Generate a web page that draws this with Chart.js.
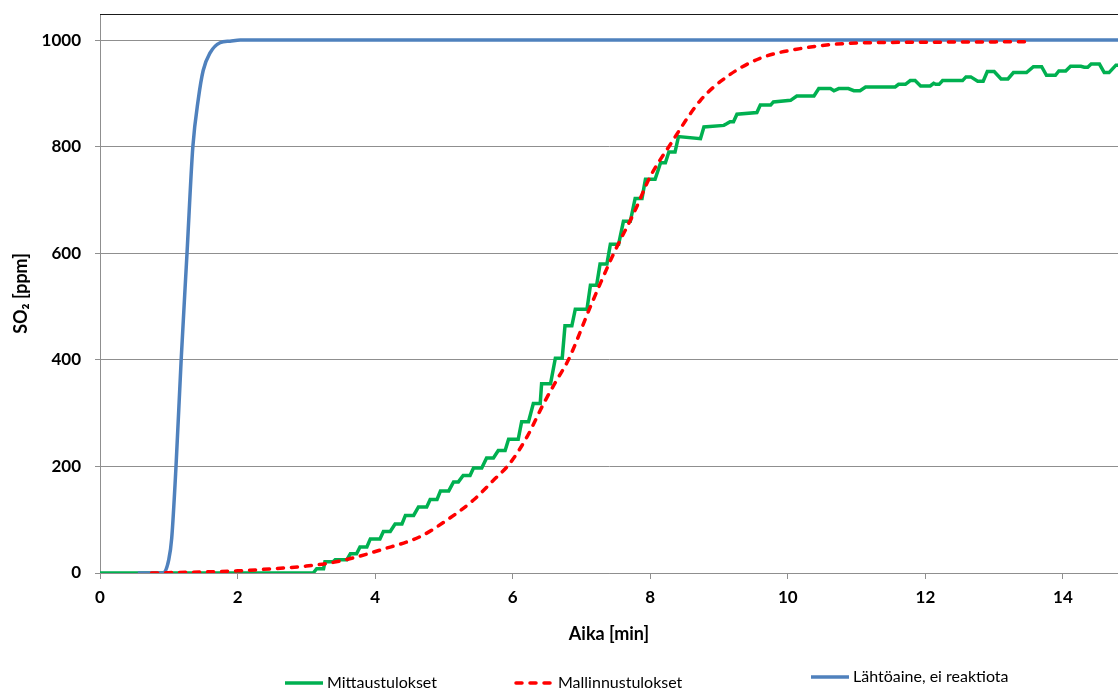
<!DOCTYPE html>
<html>
<head>
<meta charset="utf-8">
<script src="https://cdn.jsdelivr.net/npm/chart.js@4.4.1/dist/chart.umd.min.js"></script>
<style>
    html, body { margin: 0; padding: 0; background: #fff; }
    #wrap { width: 1118px; height: 691px; }
</style>
</head>
<body>
<div id="wrap"><canvas id="so2Chart" width="1118" height="691"></canvas></div>
<script>
// Mittaustulokset (measured), time in min / SO2 in ppm
const measuredTime = [0, 3.1, 3.15, 3.25, 3.27, 3.39, 3.42, 3.59, 3.64, 3.73, 3.78, 3.88, 3.93, 4.07, 4.12, 4.22,
    4.29, 4.39, 4.44, 4.56, 4.63, 4.75, 4.80, 4.90, 4.95, 5.07, 5.14, 5.21, 5.28, 5.38, 5.43, 5.55,
    5.62, 5.72, 5.79, 5.89, 5.94, 6.08, 6.13, 6.23, 6.30, 6.40, 6.42, 6.55, 6.62, 6.72, 6.76, 6.86,
    6.91, 7.08, 7.13, 7.22, 7.27, 7.37, 7.42, 7.54, 7.61, 7.71, 7.78, 7.88, 7.93, 8.07, 8.15, 8.22,
    8.27, 8.36, 8.41, 8.73, 8.78, 9.07, 9.11, 9.16, 9.21, 9.26, 9.55, 9.60, 9.75, 9.79, 10.04, 10.13,
    10.38, 10.45, 10.62, 10.67, 10.74, 10.88, 10.96, 11.05, 11.13, 11.56, 11.61, 11.71, 11.78, 11.85,
    11.93, 12.07, 12.12, 12.15, 12.20, 12.25, 12.54, 12.59, 12.66, 12.76, 12.84, 12.90, 13.00, 13.10,
    13.20, 13.28, 13.47, 13.57, 13.69, 13.76, 13.89, 13.94, 14.04, 14.11, 14.26, 14.31, 14.36, 14.41,
    14.53, 14.60, 14.67, 14.77, 14.9];
const measuredSO2 = [0, 0, 8, 8, 21, 21, 25, 25, 36, 36, 49, 49, 64, 64, 78, 78,
    92, 92, 108, 108, 124, 124, 138, 138, 154, 154, 171, 171, 183, 183, 197, 197,
    216, 216, 230, 230, 251, 251, 284, 284, 318, 318, 355, 355, 403, 403, 464, 464,
    495, 495, 540, 540, 580, 580, 617, 617, 660, 660, 703, 703, 739, 739, 770, 770,
    790, 790, 819, 815, 837, 840, 843, 847, 847, 861, 864, 878, 878, 884, 887, 895,
    895, 909, 909, 905, 909, 909, 905, 905, 912, 912, 917, 917, 924, 924,
    914, 914, 919, 917, 917, 924, 924, 931, 931, 923, 923, 941, 941, 927,
    927, 939, 939, 950, 950, 934, 934, 942, 942, 951, 951, 949, 949, 955,
    955, 939, 939, 953, 953];

// Mallinnustulokset (model)
const modelTime = [0.75, 1.5, 2.0, 2.62, 3.0, 3.35, 3.7, 4.07, 4.65, 5.04, 5.43, 5.72, 5.96, 6.21, 6.45,
    6.64, 6.81, 7.13, 7.47, 7.76, 8.0, 8.27, 8.73, 9.11, 9.6, 10.18, 10.9, 12.0, 13.53];
const modelSO2 = [0, 2, 4, 9, 13, 19, 29, 43, 68, 99, 137, 174, 206, 256, 318,
    362, 400, 500, 600, 675, 744, 800, 887, 931, 966, 984, 994, 996, 997];

// Lähtöaine, ei reaktiota (no reaction)
const inertTime = [0.55, 0.92, 1.0, 1.043, 1.105, 1.18, 1.265, 1.35, 1.43, 1.5, 1.6, 1.745, 1.89, 2.04, 14.9];
const inertSO2 = [0, 0, 25, 66, 200, 400, 600, 800, 890, 943, 976, 995, 998, 1000, 1000];

const yTicks = [0, 200, 400, 600, 800, 1000];
const xTicks = [0, 2, 4, 6, 8, 10, 12, 14];

const toPoints = (xs, ys) => xs.map((x, i) => ({ x, y: ys[i] }));

const GRID = '#8f8f8f';
const FONT = "Lato, 'Liberation Sans', sans-serif";

const legendLines = {
    id: 'legendLines',
    afterDraw(chart, args, opts) {
        const ctx = chart.ctx;
        ctx.save();
        chart.data.datasets.forEach((ds, i) => {
            const x = opts.xs[i], y = opts.ys[i];
            ctx.strokeStyle = ds.borderColor;
            ctx.lineWidth = ds.borderWidth;
            ctx.lineCap = ds.borderCapStyle || 'butt';
            ctx.setLineDash(ds.borderDash || []);
            ctx.beginPath();
            ctx.moveTo(x, y);
            ctx.lineTo(x + 38, y);
            ctx.stroke();
            ctx.setLineDash([]);
            ctx.fillStyle = '#000';
            ctx.font = '16px ' + FONT;
            ctx.textBaseline = 'middle';
            ctx.fillText(ds.label, x + 42, y);
        });
        ctx.restore();
    }
};

const topBorder = {
    id: 'topBorder',
    afterDraw(chart) {
        const { ctx, chartArea } = chart;
        ctx.save();
        ctx.strokeStyle = '#1a1a1a';
        ctx.lineWidth = 1.2;
        ctx.beginPath();
        ctx.moveTo(chartArea.left, chartArea.top + 0.5);
        ctx.lineTo(chartArea.right, chartArea.top + 0.5);
        ctx.stroke();
        ctx.restore();
    }
};

new Chart(document.getElementById('so2Chart'), {
    type: 'scatter',
    data: {
        datasets: [
            { label: 'Mittaustulokset', data: toPoints(measuredTime, measuredSO2), borderColor: '#00B050', borderWidth: 3.5, order: 2 },
            { label: 'Mallinnustulokset', data: toPoints(modelTime, modelSO2), borderColor: '#FF0000', borderWidth: 3.5, borderDash: [6, 8], borderCapStyle: 'round', cubicInterpolationMode: 'monotone', order: 0 },
            { label: 'Lähtöaine, ei reaktiota', data: toPoints(inertTime, inertSO2), borderColor: '#4F81BD', borderWidth: 3.5, cubicInterpolationMode: 'monotone', order: 1 }
        ].map(ds => ({ showLine: true, pointRadius: 0, pointHoverRadius: 0, fill: false, ...ds }))
    },
    options: {
        responsive: false,
        devicePixelRatio: 1,
        animation: false,
        layout: { padding: { top: 14, left: 0, right: 0, bottom: 0 } },
        plugins: {
            legend: { display: false },
            tooltip: { enabled: false },
            legendLines: { xs: [285, 516, 811], ys: [683, 683, 677] }
        },
        scales: {
            x: {
                type: 'linear', min: 0, max: 14.8,
                afterBuildTicks: s => { s.ticks = xTicks.map(value => ({ value })); },
                afterFit: s => { s.height = 118; s.paddingLeft = 0; s.paddingRight = 0; },
                grid: { drawOnChartArea: false, drawTicks: true, tickLength: 6, color: GRID },
                border: { color: GRID, width: 1 },
                ticks: { color: '#000', padding: 8, font: { family: FONT, size: 17, weight: 'bold' } },
                title: { display: true, text: 'Aika [min]', color: '#000', padding: { top: 0, bottom: 46 }, font: { family: FONT, size: 18, weight: 'bold' } }
            },
            y: {
                type: 'linear', min: 0, max: 1049,
                afterBuildTicks: s => { s.ticks = yTicks.map(value => ({ value })); },
                afterFit: s => { s.width = 100; s.paddingTop = 0; s.paddingBottom = 0; },
                grid: { color: GRID, lineWidth: 1, tickLength: 5 },
                border: { color: GRID, width: 1 },
                ticks: { color: '#000', padding: 14, callback: v => String(v), font: { family: FONT, size: 17, weight: 'bold' } },
                title: { display: true, text: 'SO₂ [ppm]', color: '#000', padding: 10, font: { family: FONT, size: 18, weight: 'bold' } }
            }
        },
        elements: { line: { tension: 0 } }
    },
    plugins: [legendLines, topBorder]
});
</script>
</body>
</html>
